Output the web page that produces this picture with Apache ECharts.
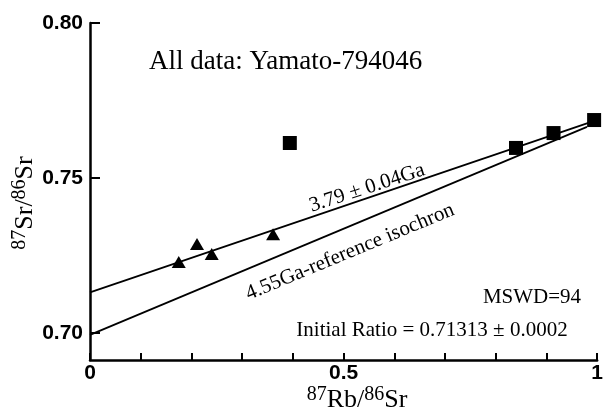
<!DOCTYPE html>
<html>
<head>
<meta charset="utf-8">
<style>
  html, body { margin: 0; padding: 0; background: #fff; }
  #chart { width: 606px; height: 408px; }
</style>
<script src="https://cdn.jsdelivr.net/npm/echarts@6/dist/echarts.min.js"></script>
</head>
<body>
<div id="chart"></div>
<script>
// datos
const triangleX = [0.175, 0.211, 0.240, 0.361];
const triangleY = [0.7229, 0.7287, 0.7255, 0.7319];
const squareX = [0.394, 0.840, 0.914, 0.994];
const squareY = [0.7613, 0.7597, 0.7645, 0.7687];
const isochronX = [0, 0.99];
const isochronY = [0.7131, 0.7682];
const referenceX = [0, 0.98];
const referenceY = [0.6994, 0.7665];
const xTickLabels = [0, 0.5, 1];
const yTickLabels = [0.70, 0.75, 0.80];

const SERIF = "'Liberation Serif', 'Times New Roman', serif";
const SANS = "'Liberation Sans', Arial, sans-serif";

const zip = (xs, ys) => xs.map((x, i) => [x, ys[i]]);

const chart = echarts.init(document.getElementById('chart'), null, { renderer: 'canvas' });

const supRich = {
    sup: { fontFamily: SERIF, fontSize: 20, color: '#000', verticalAlign: 'top', lineHeight: 30 },
    main: { fontFamily: SERIF, fontSize: 26, color: '#000', lineHeight: 30 }
};

chart.setOption({
    animation: false,
    backgroundColor: '#fff',
    grid: { left: 90, right: 1, top: 23, bottom: 48 },
    xAxis: {
        type: 'value',
        min: 0,
        max: 1,
        interval: 0.1,
        axisLine: { lineStyle: { color: '#000', width: 2.5 } },
        axisTick: { inside: true, length: 7, lineStyle: { color: '#000', width: 2 } },
        axisLabel: {
            customValues: xTickLabels,
            formatter: (v) => v === 0 ? '0' : v === 1 ? '1' : String(v),
            color: '#000',
            fontFamily: SANS,
            fontWeight: 'bold',
            fontSize: 21,
            margin: 3
        },
        splitLine: { show: false }
    },
    yAxis: {
        type: 'value',
        min: 0.6913,
        max: 0.80,
        axisLine: { lineStyle: { color: '#000', width: 2.5 } },
        axisTick: { inside: true, length: 10, customValues: yTickLabels, lineStyle: { color: '#000', width: 2 } },
        axisLabel: {
            customValues: yTickLabels,
            formatter: (v) => v.toFixed(2),
            color: '#000',
            fontFamily: SANS,
            fontWeight: 'bold',
            fontSize: 21,
            margin: 7
        },
        splitLine: { show: false }
    },
    series: [
        {
            type: 'line',
            data: zip(isochronX, isochronY),
            symbol: 'none',
            lineStyle: { color: '#000', width: 1.7 }
        },
        {
            type: 'line',
            data: zip(referenceX, referenceY),
            symbol: 'none',
            lineStyle: { color: '#000', width: 1.7 }
        },
        {
            type: 'scatter',
            data: zip(triangleX, triangleY),
            symbol: 'triangle',
            symbolSize: [14, 12],
            itemStyle: { color: '#000', opacity: 1 }
        },
        {
            type: 'scatter',
            data: zip(squareX, squareY),
            symbol: 'rect',
            symbolSize: 14,
            itemStyle: { color: '#000', opacity: 1 }
        }
    ],
    graphic: [
        {
            type: 'text', left: 149, top: 48,
            style: { text: 'All data: Yamato-794046', font: `27px ${SERIF}`, fill: '#000' }
        },
        {
            type: 'text', x: 367, y: 188, rotation: 18 * Math.PI / 180,
            style: { text: '3.79 ± 0.04Ga', font: `21px ${SERIF}`, fill: '#000', align: 'center', verticalAlign: 'middle' }
        },
        {
            type: 'text', x: 350, y: 252, rotation: 22.5 * Math.PI / 180,
            style: { text: '4.55Ga-reference isochron', font: `21px ${SERIF}`, fill: '#000', align: 'center', verticalAlign: 'middle' }
        },
        {
            type: 'text', x: 532, y: 297,
            style: { text: 'MSWD=94', font: `21px ${SERIF}`, fill: '#000', align: 'center', verticalAlign: 'middle' }
        },
        {
            type: 'text', x: 432, y: 330,
            style: { text: 'Initial Ratio = 0.71313 ± 0.0002', font: `21px ${SERIF}`, fill: '#000', align: 'center', verticalAlign: 'middle' }
        },
        {
            type: 'text', x: 357, y: 400,
            style: { text: '{sup|87}{main|Rb/}{sup|86}{main|Sr}', rich: supRich, align: 'center', verticalAlign: 'middle' }
        },
        {
            type: 'text', x: 25, y: 203, rotation: Math.PI / 2,
            style: { text: '{sup|87}{main|Sr/}{sup|86}{main|Sr}', rich: supRich, align: 'center', verticalAlign: 'middle' }
        }
    ]
});
</script>
</body>
</html>
